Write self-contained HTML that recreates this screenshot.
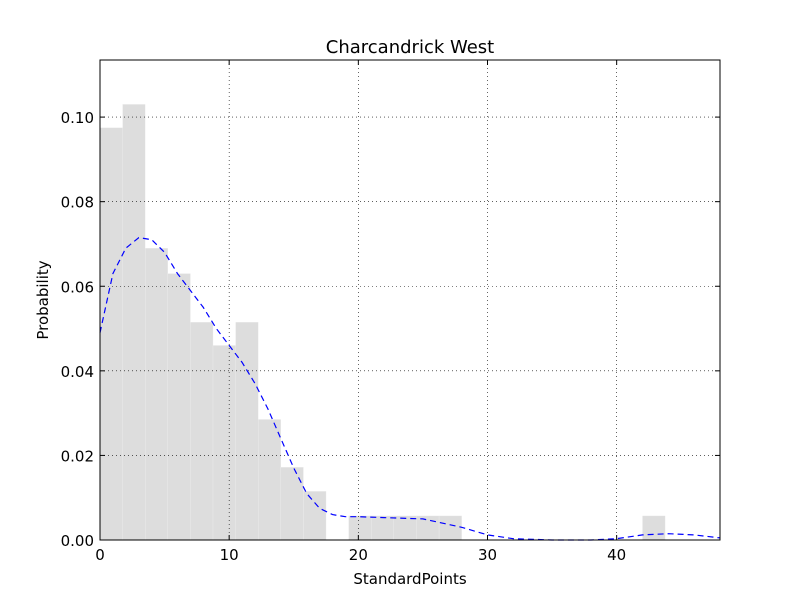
<!DOCTYPE html>
<html><head><meta charset="utf-8"><style>
body{margin:0;background:#fff}
svg text{font-family:"DejaVu Sans","Liberation Sans",sans-serif;fill:#000}
</style></head><body>
<svg id="chart" width="800" height="600" xmlns="http://www.w3.org/2000/svg">
<rect width="800" height="600" fill="#fff"/>
<g id="bars"></g>
<g id="grid"></g>
<path id="kde" fill="none" stroke="#0000ff" stroke-width="1.2" stroke-dasharray="6,4"/>
<rect x="100" y="60" width="620" height="480" fill="none" stroke="#000" stroke-width="1"/>
<g id="ticks"></g>
<text x="410" y="53" font-size="18" text-anchor="middle">Charcandrick West</text>
<text x="410" y="584" font-size="15" text-anchor="middle">StandardPoints</text>
<text x="48" y="300" font-size="15" text-anchor="middle" transform="rotate(-90 48 300)">Probability</text>
</svg>
<script>
const binWidth = 1.75;
const binValues = [0.0975,0.103,0.069,0.063,0.0515,0.046,0.0515,0.0285,0.0172,0.0115,0,0.0057,0.0057,0.0057,0.0057,0.0057,0,0,0,0,0,0,0,0,0.0057,0,0,0];
const kdeX = [0,1,2,3,4,5,6,7,8,9,10,11,12,13,14,15,16,17,18,19,20,22,25,28,30,32,35,38,40,42,44,46,48];
const kdeY = [0.049,0.063,0.069,0.0715,0.071,0.068,0.063,0.059,0.055,0.050,0.046,0.042,0.037,0.031,0.024,0.017,0.011,0.0075,0.006,0.0055,0.0055,0.0053,0.005,0.003,0.0012,0.0003,0,0,0.0003,0.0012,0.0015,0.0012,0.0005];
const xTicks = [0,10,20,30,40];
const yTicks = [0,0.02,0.04,0.06,0.08,0.10];
const yTickLabels = ["0.00","0.02","0.04","0.06","0.08","0.10"];
const X0=100,X1=720,Y0=540,Y1=60,XMAX=48,YMAX=0.1135;
const sx=v=>X0+v/XMAX*(X1-X0), sy=v=>Y0-v/YMAX*(Y0-Y1);
const NS="http://www.w3.org/2000/svg";
function mk(t,a,p){const e=document.createElementNS(NS,t);for(const k in a)e.setAttribute(k,a[k]);p.appendChild(e);return e;}
const bars=document.getElementById('bars');
binValues.forEach((v,i)=>{if(v<=0)return;
 const x=sx(i*binWidth),w=sx((i+1)*binWidth)-x;
 const r=mk('rect',{x:x,y:sy(v),width:w,height:Y0-sy(v),fill:'#dddddd',stroke:'#eeeeee','stroke-width':0.3},bars);
 
 
});
const grid=document.getElementById('grid'),ticks=document.getElementById('ticks');
xTicks.forEach(t=>{const x=sx(t);
 if(t>0)mk('line',{x1:x,x2:x,y1:Y1,y2:Y0,stroke:'#000','stroke-width':0.6,'stroke-dasharray':'1,3'},grid);
 mk('line',{x1:x,x2:x,y1:Y0,y2:Y0-5,stroke:'#000'},ticks);
 mk('line',{x1:x,x2:x,y1:Y1,y2:Y1+5,stroke:'#000'},ticks);
 const tx=mk('text',{x:x,y:Y0+20,'font-size':15,'text-anchor':'middle'},ticks);tx.textContent=t;
 
 
});
yTicks.forEach((t,i)=>{const y=sy(t);
 if(t>0)mk('line',{x1:X0,x2:X1,y1:y,y2:y,stroke:'#000','stroke-width':0.6,'stroke-dasharray':'1,3'},grid);
 mk('line',{x1:X0,x2:X0+5,y1:y,y2:y,stroke:'#000'},ticks);
 mk('line',{x1:X1,x2:X1-5,y1:y,y2:y,stroke:'#000'},ticks);
 const tx=mk('text',{x:X0-6,y:y+6,'font-size':15,'text-anchor':'end'},ticks);tx.textContent=yTickLabels[i];
 
 
});
document.getElementById('kde').setAttribute('d',kdeX.map((x,i)=>(i?'L':'M')+sx(x).toFixed(1)+','+sy(kdeY[i]).toFixed(1)).join(''));
</script>
</body></html>
